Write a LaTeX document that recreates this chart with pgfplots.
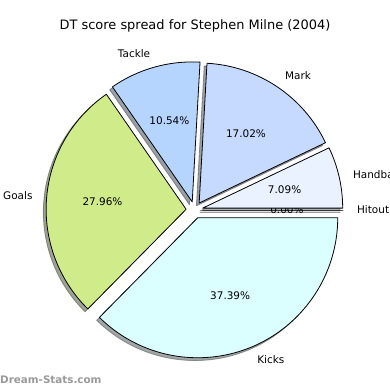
\documentclass[border=0pt]{standalone}
\usepackage{pgfplots}
\pgfplotsset{compat=1.18}
\usepackage{fontspec}
\setmainfont{DejaVu Sans}
\definecolor{cHit}{HTML}{F2F6FF}
\definecolor{cHand}{HTML}{EAF1FF}
\definecolor{cMark}{HTML}{C6D9FF}
\definecolor{cTack}{HTML}{B5D5FF}
\definecolor{cGoal}{HTML}{D0EB8A}
\definecolor{cKick}{HTML}{DBFFFF}
\newcommand\lblfont{\fontsize{10.5}{12}\selectfont}
% #1 cumulative start (%), #2 share (%), #3 colour, #4 label, #5 label anchor, #6 pass (0 shadow, 1 wedge)
\newcommand\slice[6]{%
  \pgfmathsetmacro\sa{3.6*#1}%
  \pgfmathsetmacro\ea{3.6*(#1+#2)}%
  \pgfmathsetmacro\ma{(\sa+\ea)/2}%
  \pgfmathsetmacro\cx{194.5+8.4*cos(\ma)}%
  \pgfmathsetmacro\cy{180+8.4*sin(\ma)}%
  \pgfmathsetmacro\sx{\cx-2.8}%
  \pgfmathsetmacro\sy{\cy-2.8}%
  \pgfmathsetmacro\lx{\cx+154*cos(\ma)}%
  \pgfmathsetmacro\ly{\cy+154*sin(\ma)}%
  \pgfmathsetmacro\px{\cx+84*cos(\ma)}%
  \pgfmathsetmacro\py{\cy+84*sin(\ma)}%
  \ifnum#6=0
    \edef\next{\noexpand\filldraw[fill=#3!30!black, draw=#3!30!black, opacity=0.5, line width=0.8bp, line join=round]
      (axis cs:\sx,\sy) -- ++(\sa:140bp) arc[start angle=\sa, end angle=\ea, radius=140bp] -- cycle;}%
  \else
    \edef\next{\noexpand\filldraw[fill=#3, draw=black, line width=0.8bp, line join=round]
      (axis cs:\cx,\cy) -- ++(\sa:140bp) arc[start angle=\sa, end angle=\ea, radius=140bp] -- cycle;
      \noexpand\node[anchor=#5, inner sep=0pt, font=\noexpand\lblfont] at (axis cs:\lx,\ly) {#4};
      \noexpand\node[inner sep=0pt, font=\noexpand\lblfont] at (axis cs:\px,\py) {#2\noexpand\%};}%
  \fi
  \next}
\begin{document}
\begin{tikzpicture}
\useasboundingbox (0,0) rectangle (390bp,390bp);
\clip (0,0) rectangle (390bp,390bp);
\begin{axis}[
  at={(0,0)}, anchor=south west,
  scale only axis, width=390bp, height=390bp,
  xmin=0, xmax=390, ymin=0, ymax=390,
  hide axis, clip=false]
% shadows
\slice{0}{0.00}{cHit}{Hitout}{west}{0}
\slice{0.00}{7.09}{cHand}{Handball}{west}{0}
\slice{7.09}{17.02}{cMark}{Mark}{west}{0}
\slice{24.11}{10.54}{cTack}{Tackle}{east}{0}
\slice{34.65}{27.96}{cGoal}{Goals}{east}{0}
\slice{62.61}{37.39}{cKick}{Kicks}{west}{0}
% wedges
\slice{0}{0.00}{cHit}{Hitout}{west}{1}
\slice{0.00}{7.09}{cHand}{Handball}{west}{1}
\slice{7.09}{17.02}{cMark}{Mark}{west}{1}
\slice{24.11}{10.54}{cTack}{Tackle}{east}{1}
\slice{34.65}{27.96}{cGoal}{Goals}{east}{1}
\slice{62.61}{37.39}{cKick}{Kicks}{west}{1}
\node[font=\fontsize{13}{15}\selectfont, inner sep=0pt] at (axis cs:195,364) {DT score spread for Stephen Milne (2004)};
\node[font=\fontsize{10.4}{12}\selectfont\bfseries, text=black!40, anchor=west, inner sep=0pt] at (axis cs:0,10) {Dream-Stats.com};
\end{axis}
\end{tikzpicture}
\end{document}
